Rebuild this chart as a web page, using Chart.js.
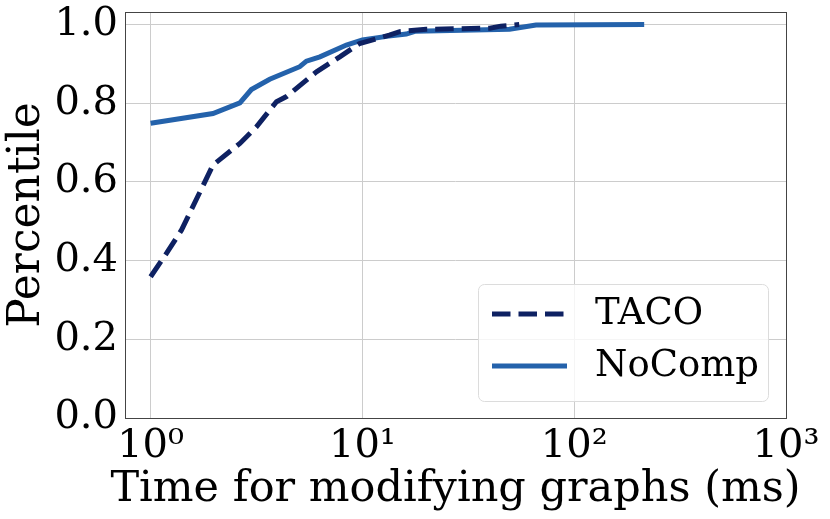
<!doctype html>
<html>
<head>
  <meta charset="utf-8" />
  <title>Time for modifying graphs</title>
  <script src="https://cdn.jsdelivr.net/npm/chart.js"></script>
  <style>html,body{margin:0;padding:0;background:#fff}#wrap{width:830px;height:519px}</style>
</head>
<body>
  <div id="wrap"><canvas id="chart" width="830" height="519"></canvas></div>
  <script>
    // CDF of time for modifying graphs
    const tacoX = [1, 1.19, 1.4, 1.97, 2.64, 3.16, 3.93, 4.38, 6.07, 7.82, 9.7, 13.4, 15, 20, 40, 45, 55];
    const tacoY = [0.359, 0.419, 0.478, 0.643, 0.698, 0.740, 0.804, 0.817, 0.880, 0.918, 0.952, 0.973, 0.982, 0.988, 0.991, 0.996, 1.0];
    const nocompX = [1, 1.97, 2.64, 2.99, 3.65, 5.06, 5.44, 6.3, 8.4, 10, 13, 16.1, 17.7, 49.5, 66, 214];
    const nocompY = [0.749, 0.774, 0.801, 0.835, 0.861, 0.893, 0.907, 0.918, 0.948, 0.961, 0.970, 0.976, 0.983, 0.988, 0.999, 1.0];
    const xTicks = [1, 10, 100, 1000];
    const xTickLabels = ['10\u2070', '10\u00b9', '10\u00b2', '10\u00b3'];
    const yTicks = [0, 0.2, 0.4, 0.6, 0.8, 1.0];
    const xTitle = 'Time for modifying graphs (ms)';

    const SERIF = "'DejaVu Serif', serif";
    const toPts = (xs, ys) => xs.map((x, i) => ({ x, y: ys[i] }));

    // matplotlib-style legend box inside the plot
    const boxLegend = {
      id: 'boxLegend',
      afterDraw(chart) {
        const ctx = chart.ctx;
        const x0 = 478, y0 = 284, w = 290, h = 117, r = 6;
        ctx.save();
        ctx.beginPath();
        ctx.roundRect(x0 + 0.5, y0 + 0.5, w, h, r);
        ctx.fillStyle = 'rgba(255,255,255,0.8)';
        ctx.fill();
        ctx.strokeStyle = '#dcdcdc';
        ctx.lineWidth = 1;
        ctx.stroke();
        const rows = [314, 366];
        chart.data.datasets.forEach((ds, i) => {
          const y = rows[i];
          ctx.beginPath();
          ctx.setLineDash(ds.borderDash || []);
          ctx.strokeStyle = ds.borderColor;
          ctx.lineWidth = ds.borderWidth;
          ctx.moveTo(492, y);
          ctx.lineTo(567, y);
          ctx.stroke();
          ctx.setLineDash([]);
          ctx.fillStyle = '#000';
          ctx.font = '37px ' + SERIF;
          ctx.textBaseline = 'middle';
          ctx.fillText(ds.label, 595, y);
        });
        ctx.restore();
      }
    };

    // frame around the plot area + x axis title
    const frame = {
      id: 'frame',
      afterDatasetsDraw(chart) {
        const a = chart.chartArea, ctx = chart.ctx;
        ctx.save();
        ctx.strokeStyle = '#444';
        ctx.lineWidth = 1;
        ctx.strokeRect(Math.round(a.left) + 0.5, Math.round(a.top) + 0.5,
          Math.round(a.right - a.left), Math.round(a.bottom - a.top));
        ctx.restore();
      },
      afterDraw(chart) {
        const a = chart.chartArea, ctx = chart.ctx;
        ctx.save();
        ctx.font = '43px ' + SERIF;
        ctx.fillStyle = '#000';
        ctx.textAlign = 'center';
        ctx.textBaseline = 'alphabetic';
        ctx.fillText(xTitle, (a.left + a.right) / 2, 501);
        ctx.restore();
      }
    };

    new Chart(document.getElementById('chart'), {
      type: 'line',
      data: {
        datasets: [
          {
            label: 'TACO',
            data: toPts(tacoX, tacoY),
            borderColor: '#0e2162',
            borderWidth: 5,
            borderDash: [18.5, 8],
            pointRadius: 0,
            tension: 0,
            fill: false
          },
          {
            label: 'NoComp',
            data: toPts(nocompX, nocompY),
            borderColor: '#2462ab',
            borderWidth: 5,
            pointRadius: 0,
            tension: 0,
            fill: false
          }
        ]
      },
      options: {
        responsive: false,
        animation: false,
        layout: { autoPadding: false, padding: { top: 12, right: 44, left: 0, bottom: 0 } },
        plugins: { legend: { display: false }, tooltip: { enabled: false } },
        scales: {
          x: {
            type: 'logarithmic',
            min: 0.757,
            max: 1000,
            afterBuildTicks: (s) => { s.ticks = xTicks.map((v) => ({ value: v })); },
            afterFit: (s) => { s.height = 101; s.paddingLeft = 0; s.paddingRight = 0; },
            grid: { color: '#cccccc', lineWidth: 1, drawTicks: false },
            border: { display: false },
            ticks: {
              autoSkip: false,
              maxRotation: 0,
              padding: 5,
              color: '#000',
              font: { family: SERIF, size: 40 },
              callback: (v) => xTickLabels[xTicks.indexOf(v)] || ''
            },
            title: { display: false }
          },
          y: {
            min: 0,
            max: 1.032,
            afterBuildTicks: (s) => { s.ticks = yTicks.map((v) => ({ value: v })); },
            afterFit: (s) => { s.width = 125; s.paddingTop = 0; s.paddingBottom = 0; },
            grid: { color: '#cccccc', lineWidth: 1, drawTicks: false },
            border: { display: false },
            ticks: {
              padding: 7,
              color: '#000',
              font: { family: SERIF, size: 40 },
              callback: (v) => v.toFixed(1)
            },
            title: {
              display: true,
              text: 'Percentile',
              color: '#000',
              font: { family: SERIF, size: 44, lineHeight: 1 },
              padding: { top: 6, bottom: 0 }
            }
          }
        }
      },
      plugins: [frame, boxLegend]
    });
  </script>
</body>
</html>
